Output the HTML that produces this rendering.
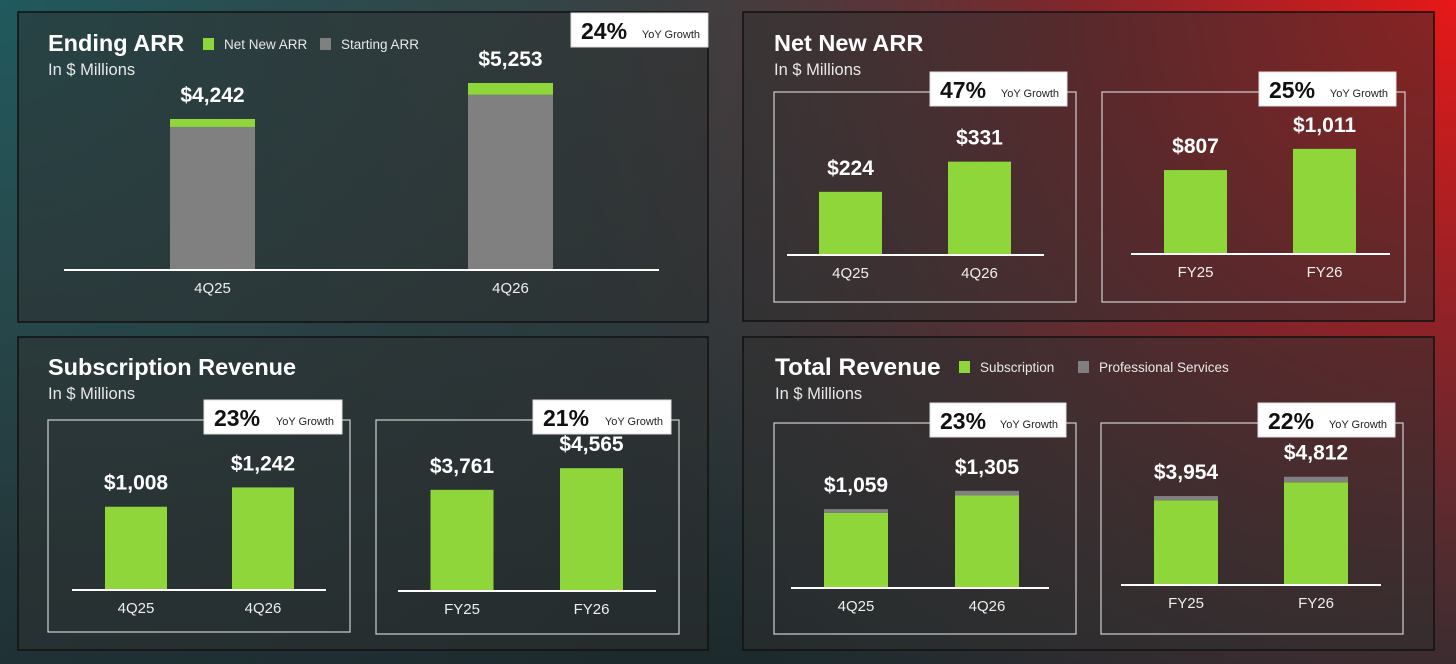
<!DOCTYPE html>
<html><head><meta charset="utf-8"><style>
html,body{margin:0;padding:0;width:1456px;height:664px;overflow:hidden;background:#1a2a2e;}
svg text{font-family:"Liberation Sans",sans-serif;}
</style></head><body>
<svg id="s" width="1456" height="664" viewBox="0 0 1456 664" xmlns="http://www.w3.org/2000/svg">
<defs>
<radialGradient id="gr" cx="1456" cy="0" r="950" gradientUnits="userSpaceOnUse">
<stop offset="0" stop-color="#e81818"/><stop offset="0.4" stop-color="#8a2228" stop-opacity="0.9"/><stop offset="1" stop-color="#3a3a3a" stop-opacity="0"/></radialGradient>
<radialGradient id="gt" cx="0" cy="0" r="900" gradientUnits="userSpaceOnUse">
<stop offset="0" stop-color="#1f5a5e"/><stop offset="1" stop-color="#2a3a3c" stop-opacity="0"/></radialGradient>
<linearGradient id="gb" x1="0" y1="0" x2="0" y2="1"><stop offset="0" stop-color="#3c4446"/><stop offset="1" stop-color="#1c2a2e"/></linearGradient>
</defs>
<rect width="1456" height="664" fill="url(#gb)"/>
<rect width="1456" height="664" fill="url(#gt)"/>
<rect width="1456" height="664" fill="url(#gr)"/>
<g id="root"></g>
</svg>
<script>
// Chart 1: Ending ARR
const arrCats = ["4Q25", "4Q26"];
const arrNetNew = [224, 331];
const arrTotal = [4242, 5253];
const arrLabels = ["$4,242", "$5,253"];
// Chart 2: Net New ARR
const nnQCats = ["4Q25", "4Q26"];
const nnQVals = [224, 331];
const nnQLabels = ["$224", "$331"];
const nnFCats = ["FY25", "FY26"];
const nnFVals = [807, 1011];
const nnFLabels = ["$807", "$1,011"];
// Chart 3: Subscription Revenue
const subQCats = ["4Q25", "4Q26"];
const subQVals = [1008, 1242];
const subQLabels = ["$1,008", "$1,242"];
const subFCats = ["FY25", "FY26"];
const subFVals = [3761, 4565];
const subFLabels = ["$3,761", "$4,565"];
// Chart 4: Total Revenue
const totQCats = ["4Q25", "4Q26"];
const totQSub = [1008, 1242];
const totQTotal = [1059, 1305];
const totQLabels = ["$1,059", "$1,305"];
const totFCats = ["FY25", "FY26"];
const totFSub = [3761, 4565];
const totFTotal = [3954, 4812];
const totFLabels = ["$3,954", "$4,812"];

const NS="http://www.w3.org/2000/svg";
const root=document.getElementById('root');
const GREEN="#8fd63a", GRAY="#808080";
function el(tag,attrs,parent,text){const e=document.createElementNS(NS,tag);for(const k in attrs)e.setAttribute(k,attrs[k]);if(text!==undefined)e.textContent=text;(parent||root).appendChild(e);return e;}

function panel(x,y,w,h,name){
  const r=el('rect',{x:x,y:y,width:w,height:h,fill:"rgba(45,45,45,0.5)",stroke:"#111",'stroke-width':1.5});
  
  
}
function title(x,y,t,name,fs){
  const a=el('text',{x:x,y:y,fill:"#fff",'font-size':fs,'font-weight':'bold'},root,t);
  
  
  const b=el('text',{x:x,y:y+24,fill:"#e8e8e8",'font-size':16.5},root,"In $ Millions");
  
  
}
function legend(x,y,color,label,name){
  const g=el('g',{});
  
  
  el('rect',{x:x,y:y-11,width:11,height:12,fill:color},g);
  el('text',{x:x+21,y:y,fill:"#e8e8e8",'font-size':13.5},g,label);
}
function badge(x,y,w,pct,name){
  const g=el('g',{});
  
  
  el('rect',{x:x,y:y,width:w,height:34,fill:"#fff",stroke:"#ddd",'stroke-width':1},g);
  el('text',{x:x+10,y:y+26,fill:"#111",'font-size':23,'font-weight':'bold'},g,pct);
  el('text',{x:x+w-8,y:y+25,fill:"#222",'font-size':11,'text-anchor':'end'},g,"YoY Growth");
}
function innerBox(x,y,w,h,name){
  const r=el('rect',{x:x,y:y,width:w,height:h,fill:"none",stroke:"#cfcfcf",'stroke-width':1.2});
  
  
}
function barChart(o,name){
  const g=el('g',{});
  
  
  const yS=v=>o.base-v*o.scale;
  o.cats.forEach((c,i)=>{
    const cx=o.centers[i], tot=o.vals[i];
    const split=o.split?o.split[i]:tot;
    const b=el('rect',{x:cx-o.bw/2,y:yS(split),width:o.bw,height:o.base-yS(split),fill:o.botColor},g);
    
    
    if(o.split){
      const t=el('rect',{x:cx-o.bw/2,y:yS(tot),width:o.bw,height:yS(split)-yS(tot),fill:o.topColor},g);
      
      
    }
    const l=el('text',{x:cx,y:yS(tot)-17,fill:"#fff",'font-size':21,'font-weight':'bold','text-anchor':'middle'},g,o.labels[i]);
    
    
    const ct=el('text',{x:cx,y:o.base+23,fill:"#eee",'font-size':15,'text-anchor':'middle'},g,c);
    
    
  });
  const ax=el('line',{x1:o.x0,x2:o.x1,y1:o.base,y2:o.base,stroke:"#fff",'stroke-width':2},g);
  
  
}

// Panel 1
panel(18,12,690,310,'ending-arr-panel');
title(48,51,"Ending ARR",'ending-arr-title',23.5);
legend(203,49,GREEN,"Net New ARR",'legend-net-new-arr');
legend(320,49,GRAY,"Starting ARR",'legend-starting-arr');
badge(571,13,137,"24%",'ending-arr-yoy-badge');
barChart({x0:64,x1:659,base:270,scale:0.0356,centers:[212.5,510.5],bw:85,cats:arrCats,vals:arrTotal,
  split:arrTotal.map((t,i)=>t-arrNetNew[i]),labels:arrLabels,topColor:GREEN,botColor:GRAY},'ending-arr-chart');

// Panel 2
panel(743,12,691,309,'net-new-arr-panel');
title(774,51,"Net New ARR",'net-new-arr-title',23.5);
innerBox(774,92,302,210,'net-new-quarter-box');
innerBox(1102,92,303,210,'net-new-fy-box');
badge(930,72,137,"47%",'net-new-quarter-yoy-badge');
badge(1259,72,137,"25%",'net-new-fy-yoy-badge');
barChart({x0:787,x1:1044,base:255,scale:0.282,centers:[850.5,979.5],bw:63,cats:nnQCats,vals:nnQVals,labels:nnQLabels,botColor:GREEN},'net-new-quarter-chart');
barChart({x0:1131,x1:1390,base:254,scale:0.104,centers:[1195.5,1324.5],bw:63,cats:nnFCats,vals:nnFVals,labels:nnFLabels,botColor:GREEN},'net-new-fy-chart');

// Panel 3
panel(18,337,690,313,'subscription-revenue-panel');
title(48,375,"Subscription Revenue",'subscription-revenue-title',23.5);
innerBox(48,420,302,212,'subscription-quarter-box');
innerBox(376,420,303,214,'subscription-fy-box');
badge(204,400,138,"23%",'subscription-quarter-yoy-badge');
badge(533,400,138,"21%",'subscription-fy-yoy-badge');
barChart({x0:72,x1:326,base:590,scale:0.0826,centers:[136,263],bw:62,cats:subQCats,vals:subQVals,labels:subQLabels,botColor:GREEN},'subscription-quarter-chart');
barChart({x0:398,x1:656,base:591,scale:0.0269,centers:[462,591.5],bw:63,cats:subFCats,vals:subFVals,labels:subFLabels,botColor:GREEN},'subscription-fy-chart');

// Panel 4
panel(743,337,691,313,'total-revenue-panel');
title(775,375,"Total Revenue",'total-revenue-title',24.5);
legend(959,372,GREEN,"Subscription",'legend-subscription');
legend(1078,372,GRAY,"Professional Services",'legend-professional-services');
innerBox(774,423,302,211,'total-quarter-box');
innerBox(1101,423,302,211,'total-fy-box');
badge(930,403,136,"23%",'total-quarter-yoy-badge');
badge(1258,403,137,"22%",'total-fy-yoy-badge');
barChart({x0:791,x1:1049,base:588,scale:0.0745,centers:[856,987],bw:64,cats:totQCats,vals:totQTotal,split:totQSub,labels:totQLabels,topColor:GRAY,botColor:GREEN},'total-quarter-chart');
barChart({x0:1121,x1:1381,base:585,scale:0.0225,centers:[1186,1316],bw:64,cats:totFCats,vals:totFTotal,split:totFSub,labels:totFLabels,topColor:GRAY,botColor:GREEN},'total-fy-chart');
</script>
</body></html>
